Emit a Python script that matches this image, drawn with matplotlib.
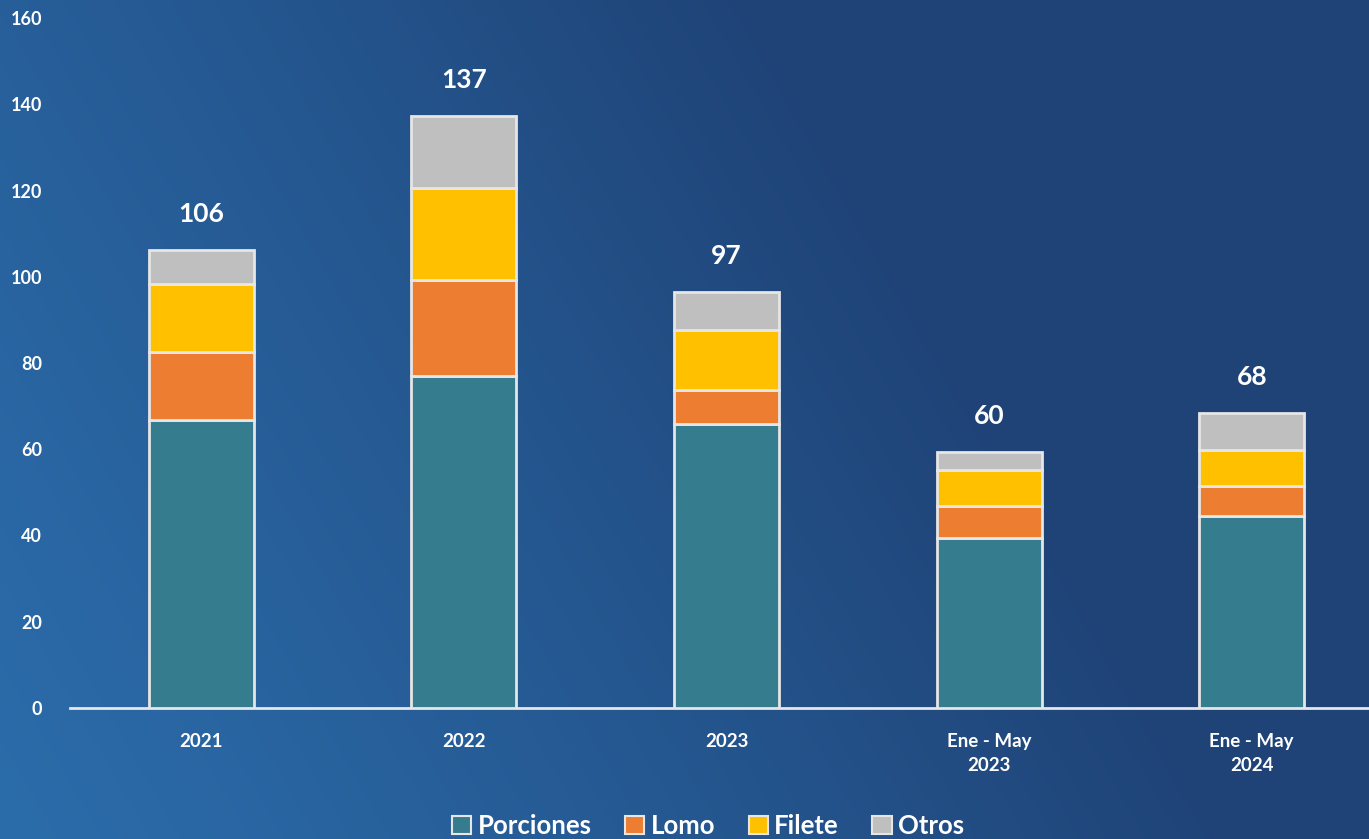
import numpy as np
import matplotlib
matplotlib.use("Agg")
import matplotlib.pyplot as plt
from matplotlib.patches import Patch

categories = ["2021", "2022", "2023", "Ene - May\n2023", "Ene - May\n2024"]
porciones = [66.8, 77.0, 65.9, 39.4, 44.5]
lomo = [15.8, 22.2, 7.8, 7.4, 7.0]
filete = [15.7, 21.4, 14.0, 8.4, 8.3]
otros = [7.9, 16.7, 8.8, 4.2, 8.6]
totals = [106, 137, 97, 60, 68]
series_names = ["Porciones", "Lomo", "Filete", "Otros"]
colors = ["#357C8F", "#ED7D31", "#FFC000", "#BFBFBF"]

plt.rcParams['font.family'] = ['Lato', 'DejaVu Sans']
W, H = 1369, 839
fig = plt.figure(figsize=(W / 100, H / 100), dpi=100)

# background gradient
bg = fig.add_axes([0, 0, 1, 1])
xs = np.linspace(0, 1, 400)
ys = np.linspace(1, 0, 250)
X, Y = np.meshgrid(xs, ys)
t = X + 0.35 * Y
s = np.clip(t / 0.9, 0, 1) ** 1.2
light = np.array([0x2b, 0x6c, 0xaa]) / 255
dark = np.array([0x1f, 0x43, 0x77]) / 255
img = light[None, None, :] * (1 - s[..., None]) + dark[None, None, :] * s[..., None]
bg.imshow(img, aspect='auto', extent=[0, 1, 0, 1], interpolation='bilinear')
bg.axis('off')

left = 70 / W
right = 1383 / W
bottom = (H - 708) / H
top = (H - 18) / H
ax = fig.add_axes([left, bottom, right - left, top - bottom])
ax.set_facecolor('none')

x = np.arange(len(categories))
width = 0.40
base = np.zeros(len(categories))
for vals, name, c in zip([porciones, lomo, filete, otros], series_names, colors):
    ax.bar(x, vals, width, bottom=base, color=c, edgecolor='#E6E6E6', linewidth=2, label=name, zorder=3)
    base = base + np.array(vals)

for xi, tot, b in zip(x, totals, base):
    ax.annotate(f"{tot}", (xi, b), xytext=(0, 17), textcoords='offset points',
                ha='center', va='bottom', color='white', fontsize=19, fontweight='bold')

ax.set_xlim(-0.5, len(categories) - 0.5)
ax.set_ylim(0, 160)
ax.set_yticks(np.arange(0, 161, 20))
ax.set_xticks(x)
ax.set_xticklabels(categories, linespacing=1.5)
for sp in ['top', 'right', 'left']:
    ax.spines[sp].set_visible(False)
ax.spines['bottom'].set_color('#E6E6E6')
ax.spines['bottom'].set_linewidth(2)
ax.tick_params(axis='y', length=0, colors='white', labelsize=13, pad=20)
ax.tick_params(axis='x', length=0, colors='white', labelsize=13.5, pad=18)
for lab in ax.get_xticklabels() + ax.get_yticklabels():
    lab.set_fontweight('bold')
    lab.set_color('white')

handles = [Patch(facecolor=c, edgecolor='#E6E6E6', linewidth=1.5) for c in colors]
leg = fig.legend(handles, series_names, loc='center', bbox_to_anchor=(708 / W, (H - 826) / H),
                 ncol=4, frameon=False, fontsize=18.5, handlelength=0.75, handleheight=0.75,
                 handletextpad=0.25, columnspacing=1.3, borderpad=0)
for txt in leg.get_texts():
    txt.set_color('white')
    txt.set_fontweight('bold')

fig.savefig('out.png', dpi=100)
